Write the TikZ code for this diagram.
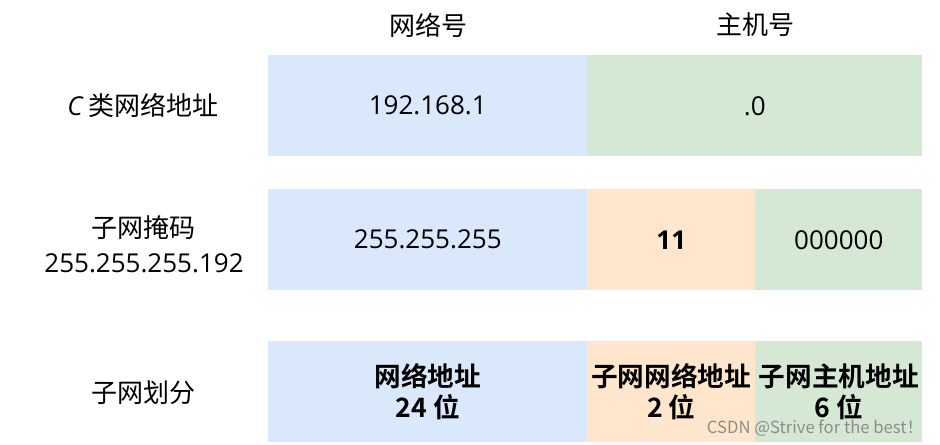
\documentclass[tikz,border=0pt]{standalone}
\usepackage{fontspec}
\setmainfont{Noto Sans CJK SC}
\newfontfamily\boldcjk{Noto Sans CJK SC Bold}
\newfontfamily\latin{Open Sans}
\usepackage{tikz}

\definecolor{netblue}{HTML}{DAE8FC}
\definecolor{hostgreen}{HTML}{D5E8D4}
\definecolor{subnetorange}{HTML}{FFE6CC}

\tikzset{
  cell/.style={anchor=north west, inner sep=0pt, minimum height=75.75pt,
    font=\fontsize{19.5}{23}\selectfont, align=center},
  label/.style={font=\fontsize{19.5}{26}\selectfont, align=center},
  boldcell/.style={cell, font=\fontsize{20}{23.5}\selectfont\boldcjk}
}

\begin{document}
\begin{tikzpicture}[x=0.75pt,y=-0.75pt]
\useasboundingbox (0,0) rectangle (940,445);
% column heads
\node[label] (nethead) at (428,25) {网络号};
\node[label] (hosthead) at (755,25) {主机号};
% row 1
\node[label] (classc) at (143,105) {{\latin\itshape C} 类网络地址};
\node[cell, fill=netblue, minimum width=239.25pt] (net1) at (268,55) {\latin 192.168.1};
\node[cell, fill=hostgreen, minimum width=251.25pt] (host1) at (587,55) {\latin .0};
% row 2
\node[label] (mask) at (144,244) {子网掩码\\\latin 255.255.255.192};
\node[cell, fill=netblue, minimum width=239.25pt] (net2) at (268,189) {\latin 255.255.255};
\node[cell, fill=subnetorange, minimum width=126pt] (sub2) at (587,189) {\latin\bfseries 11};
\node[cell, fill=hostgreen, minimum width=125.25pt] (host2) at (755,189) {\latin 000000};
% row 3
\node[label] (split) at (143,393) {子网划分};
\node[boldcell, fill=netblue, minimum width=239.25pt] (net3) at (268,341) {网络地址\\24 位};
\node[boldcell, fill=subnetorange, minimum width=126pt] (sub3) at (587,341) {子网网络地址\\2 位};
\node[boldcell, fill=hostgreen, minimum width=125.25pt] (host3) at (755,341) {子网主机地址\\6 位};
% watermark
\node[anchor=east, text=black!45, font=\fontsize{12.5}{14}\selectfont] (mark) at (928,428) {CSDN @Strive for the best！};
\end{tikzpicture}
\end{document}
